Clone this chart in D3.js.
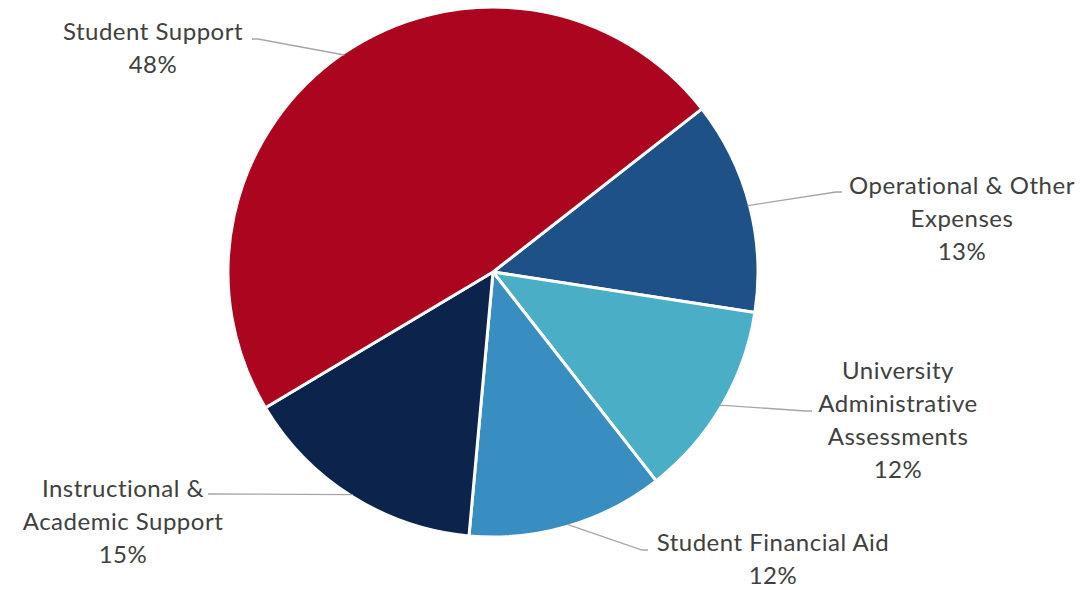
<!DOCTYPE html>
<html>
<head>
<meta charset="utf-8">
<script src="https://cdn.jsdelivr.net/npm/d3@7"></script>
<style>
  html, body { margin: 0; padding: 0; background: #fff; }
  svg { display: block; }
  .lbl { font-family: Lato, "Open Sans", sans-serif; font-size: 24px; letter-spacing: 0.5px; fill: #404040; font-variant-ligatures: none; }
</style>
</head>
<body>
<div id="chart"></div>
<script>
// Slices in clockwise order, starting at the Student Support / Operational boundary
const categories = ["Operational & Other Expenses", "University Administrative Assessments", "Student Financial Aid", "Instructional & Academic Support", "Student Support"];
const shares = [13, 12, 12, 15, 48];
const labelLines = [
    ["Operational & Other", "Expenses", "13%"],
    ["University", "Administrative", "Assessments", "12%"],
    ["Student Financial Aid", "12%"],
    ["Instructional &", "Academic Support", "15%"],
    ["Student Support", "48%"]
];
const colors = ["#1F5189", "#4BAEC7", "#388EC0", "#0C234B", "#AB0520"];

// label layout: centre x, first line centre y, leader elbow point
const labelLayout = [
    {x: 962, y: 184, elbow: [836, 192]},
    {x: 898, y: 369, elbow: [806, 411]},
    {x: 773, y: 541, elbow: [642, 550]},
    {x: 123, y: 487, elbow: [214, 494]},
    {x: 153, y: 30, elbow: [258, 39]}
];

const width = 1086, height = 590;
const cx = 493, cy = 272, radius = 265;
const lineHeight = 33;
const startAngle = 52 * Math.PI / 180;

const svg = d3.select("#chart").append("svg")
    .attr("width", width)
    .attr("height", height);

const pie = d3.pie()
    .sort(null)
    .value(d => d)
    .startAngle(startAngle)
    .endAngle(startAngle + 2 * Math.PI);

const arcs = pie(shares);
const arc = d3.arc().innerRadius(0).outerRadius(radius);

const g = svg.append("g").attr("transform", `translate(${cx},${cy})`);

// leader lines first, under the slices
const leaders = svg.append("g");
arcs.forEach((a, i) => {
    const mid = (a.startAngle + a.endAngle) / 2;
    const px = cx + Math.sin(mid) * (radius - 2);
    const py = cy - Math.cos(mid) * (radius - 2);
    const lay = labelLayout[i];
    const dir = Math.sin(mid) > 0 ? 1 : -1;
    leaders.append("polyline")
        .attr("points", [[px, py], lay.elbow, [lay.elbow[0] + dir * 6, lay.elbow[1]]].map(p => p.join(",")).join(" "))
        .attr("fill", "none")
        .attr("stroke", "#A6A6A6")
        .attr("stroke-width", 1.3);
});

g.selectAll("path")
    .data(arcs)
    .join("path")
    .attr("d", arc)
    .attr("fill", (d, i) => colors[i])
    .attr("stroke", "#fff")
    .attr("stroke-width", 3)
    .attr("stroke-linejoin", "round");

const labels = svg.append("g");
labelLines.forEach((lines, i) => {
    const lay = labelLayout[i];
    const t = labels.append("text")
        .attr("class", "lbl")
        .attr("text-anchor", "middle")
        .attr("dominant-baseline", "central");
    lines.forEach((ln, j) => {
        t.append("tspan")
            .attr("x", lay.x)
            .attr("y", lay.y + j * lineHeight)
            .text(ln);
    });
});
</script>
</body>
</html>
